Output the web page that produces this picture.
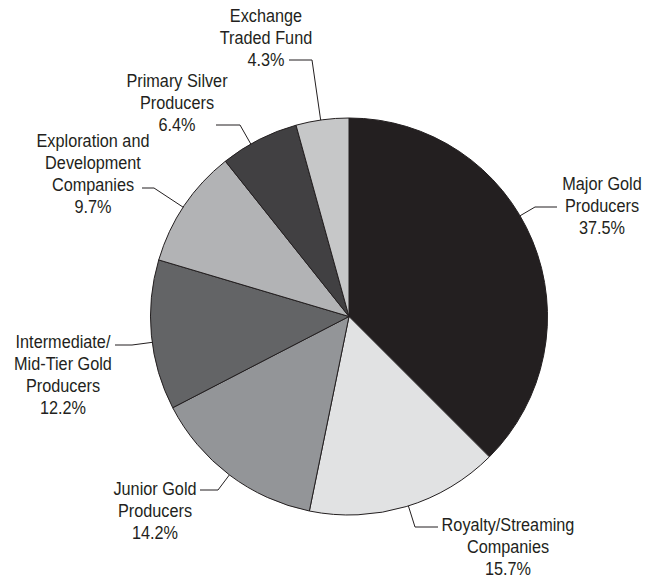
<!DOCTYPE html>
<html>
<head>
<meta charset="utf-8">
<script src="https://cdn.jsdelivr.net/npm/d3@7"></script>
<style>
  body { margin: 0; background: #fff; }
  svg text {
    font-family: "Liberation Sans", Arial, sans-serif;
    font-size: 17.5px;
    fill: #231f20;
  }
</style>
</head>
<body>
<div id="chart"></div>
<script>
// Slice data, clockwise from 12 o'clock
const categories = [
  'Major Gold Producers',
  'Royalty/Streaming Companies',
  'Junior Gold Producers',
  'Intermediate/Mid-Tier Gold Producers',
  'Exploration and Development Companies',
  'Primary Silver Producers',
  'Exchange Traded Fund',
];
const shares = [37.5, 15.7, 14.2, 12.2, 9.7, 6.4, 4.3];
// label text, split into lines as printed
const labelLines = [
  ['Major Gold', 'Producers'],
  ['Royalty/Streaming', 'Companies'],
  ['Junior Gold', 'Producers'],
  ['Intermediate/', 'Mid-Tier Gold', 'Producers'],
  ['Exploration and', 'Development', 'Companies'],
  ['Primary Silver', 'Producers'],
  ['Exchange', 'Traded Fund'],
];

const fills = ['#231f20', '#e1e2e3', '#939598', '#636466', '#b2b3b5', '#414042', '#c6c7c8'];

// label placement: text centre x, first baseline y, leader elbow (ex, ey), leader end (hx, hy)
const labelLayout = [
  { x: 602, y: 190, ex: 535, ey: 207, hx: 557, hy: 207 },
  { x: 508, y: 531, ex: 415, ey: 527, hx: 438, hy: 527 },
  { x: 155, y: 495, ex: 218, ey: 490, hx: 200, hy: 490 },
  { x: 63, y: 348, ex: 132, ey: 345, hx: 115, hy: 345 },
  { x: 93, y: 147, ex: 154, ey: 188, hx: 142, hy: 188 },
  { x: 177, y: 87, ex: 240, ey: 125, hx: 216, hy: 125 },
  { x: 266, y: 22, ex: 312, ey: 60, hx: 289, hy: 60 },
];

const config = {
  w: 645,
  h: 578,
  cx: 349,
  cy: 316.5,
  r: 198.5,
  lineHeight: 22,
  squeeze: 0.93, // condensed look
};

const data = categories.map((c, i) => ({
  name: c,
  value: shares[i],
  lines: labelLines[i].concat([shares[i].toFixed(1) + '%']),
  fill: fills[i],
  layout: labelLayout[i],
}));

let svg = d3
  .select('#chart')
  .append('svg')
  .attr('width', config.w)
  .attr('height', config.h);

const pie = d3
  .pie()
  .sort(null)
  .value((d) => d.value);

const arc = d3
  .arc()
  .innerRadius(0)
  .outerRadius(config.r);

let g = svg
  .append('g')
  .attr('transform', `translate(${config.cx},${config.cy})`);

g
  .selectAll('path')
  .data(pie(data))
  .enter()
  .append('path')
  .attr('d', arc)
  .style('fill', (d) => d.data.fill)
  .style('stroke', '#231f20')
  .style('stroke-width', 1);

// Leader lines: pie edge (radial projection of elbow) -> elbow -> end near the text
svg
  .append('g')
  .selectAll('polyline')
  .data(data)
  .enter()
  .append('polyline')
  .attr('points', (d) => {
    let l = d.layout;
    let dx = l.ex - config.cx;
    let dy = l.ey - config.cy;
    let len = Math.sqrt(dx * dx + dy * dy);
    let px = config.cx + (dx / len) * config.r;
    let py = config.cy + (dy / len) * config.r;
    return `${px},${py} ${l.ex},${l.ey} ${l.hx},${l.hy}`;
  })
  .style('fill', 'none')
  .style('stroke', '#231f20')
  .style('stroke-width', 1);

// Labels
let labels = svg
  .append('g')
  .selectAll('text')
  .data(data)
  .enter()
  .append('text')
  .attr('text-anchor', 'middle')
  .attr('transform', (d) => `translate(${d.layout.x},${d.layout.y}) scale(${config.squeeze},1)`);

labels
  .selectAll('tspan')
  .data((d) => d.lines.map((t, i) => ({ t: t, i: i })))
  .enter()
  .append('tspan')
  .attr('x', 0)
  .attr('dy', (d) => (d.i === 0 ? 0 : config.lineHeight))
  .text((d) => d.t);
</script>
</body>
</html>
